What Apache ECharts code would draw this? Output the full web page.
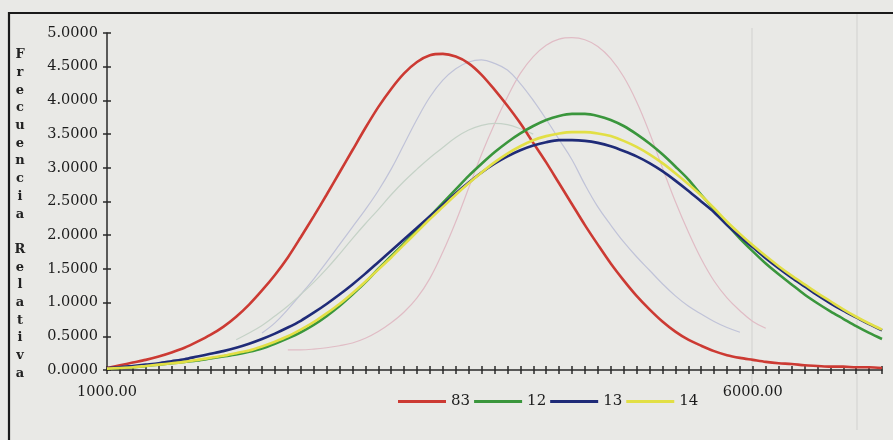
<!DOCTYPE html>
<html>
<head>
<meta charset="utf-8">
<script src="https://cdn.jsdelivr.net/npm/echarts@6/dist/echarts.min.js"></script>
<style>
  html, body { margin: 0; padding: 0; background: #e9e9e6; }
  #chart { width: 893px; height: 440px; }
</style>
</head>
<body>
<div id="chart"></div>
<script>
// Class marks (x axis categories)
const categories = [
  1000, 1100, 1200, 1300, 1400, 1500, 1600, 1700, 1800, 1900,
  2000, 2100, 2200, 2300, 2400, 2500, 2600, 2700, 2800, 2900,
  3000, 3100, 3200, 3300, 3400, 3500, 3600, 3700, 3800, 3900,
  4000, 4100, 4200, 4300, 4400, 4500, 4600, 4700, 4800, 4900,
  5000, 5100, 5200, 5300, 5400, 5500, 5600, 5700, 5800, 5900,
  6000, 6100, 6200, 6300, 6400, 6500, 6600, 6700, 6800, 6900,
  7000
];
// Categories that carry a printed label
const xLabelValues = [1000, 6000];

// Relative frequency curves
const serie83 = [
  0.03, 0.07, 0.11, 0.15, 0.20, 0.26, 0.33, 0.42, 0.52, 0.64,
  0.79, 0.97, 1.18, 1.41, 1.67, 1.97, 2.28, 2.60, 2.93, 3.26,
  3.59, 3.90, 4.17, 4.40, 4.57, 4.67, 4.69, 4.65, 4.55, 4.38,
  4.16, 3.92, 3.66, 3.37, 3.08, 2.77, 2.46, 2.15, 1.86, 1.58,
  1.33, 1.10, 0.90, 0.72, 0.57, 0.45, 0.36, 0.28, 0.22, 0.18,
  0.15, 0.12, 0.10, 0.09, 0.07, 0.06, 0.05, 0.05, 0.04, 0.04,
  0.03
];
const serie12 = [
  0.02, 0.03, 0.04, 0.06, 0.08, 0.10, 0.12, 0.14, 0.17, 0.20,
  0.23, 0.27, 0.32, 0.39, 0.47, 0.56, 0.67, 0.80, 0.95, 1.12,
  1.30, 1.50, 1.69, 1.88, 2.08, 2.28, 2.48, 2.68, 2.88, 3.06,
  3.23, 3.38, 3.51, 3.62, 3.71, 3.77, 3.80, 3.80, 3.77, 3.71,
  3.62, 3.50, 3.36, 3.20, 3.02, 2.83, 2.60, 2.38, 2.16, 1.95,
  1.76, 1.58, 1.42, 1.27, 1.12, 0.99, 0.87, 0.76, 0.65, 0.55,
  0.46
];
const serie13 = [
  0.03, 0.04, 0.06, 0.08, 0.10, 0.13, 0.16, 0.20, 0.24, 0.28,
  0.33, 0.39, 0.46, 0.54, 0.63, 0.73, 0.85, 0.98, 1.12, 1.27,
  1.43, 1.60, 1.77, 1.94, 2.11, 2.28, 2.45, 2.62, 2.78, 2.93,
  3.06, 3.17, 3.26, 3.33, 3.38, 3.41, 3.41, 3.40, 3.37, 3.32,
  3.25, 3.17, 3.07, 2.95, 2.81, 2.66, 2.50, 2.34, 2.15, 1.98,
  1.82, 1.66, 1.51, 1.37, 1.24, 1.11, 0.99, 0.88, 0.78, 0.68,
  0.59
];
const serie14 = [
  0.02, 0.03, 0.04, 0.06, 0.08, 0.10, 0.12, 0.15, 0.18, 0.21,
  0.25, 0.29, 0.35, 0.42, 0.50, 0.60, 0.71, 0.84, 0.98, 1.14,
  1.31, 1.49, 1.67, 1.86, 2.05, 2.24, 2.42, 2.60, 2.77, 2.93,
  3.08, 3.21, 3.32, 3.41, 3.47, 3.51, 3.53, 3.53, 3.51, 3.47,
  3.40, 3.31, 3.20, 3.07, 2.92, 2.76, 2.59, 2.40, 2.20, 2.02,
  1.85, 1.69, 1.54, 1.40, 1.27, 1.14, 1.02, 0.90, 0.79, 0.69,
  0.60
];

// Faint curves printed on the reverse side of the sheet
const faintPink = [
  null, null, null, null, null, null, null, null, null, null,
  null, null, null, null, 0.30, 0.30, 0.31, 0.33, 0.36, 0.40,
  0.47, 0.57, 0.70, 0.86, 1.07, 1.36, 1.75, 2.20, 2.70, 3.20,
  3.65, 4.05, 4.40, 4.65, 4.82, 4.91, 4.93, 4.90, 4.80, 4.62,
  4.35, 3.98, 3.52, 3.00, 2.50, 2.05, 1.65, 1.32, 1.07, 0.88,
  0.72, 0.62, null, null, null, null, null, null, null, null,
  null
];
const faintBlue = [
  null, null, null, null, null, null, null, null, null, null,
  null, null, 0.55, 0.70, 0.90, 1.12, 1.35, 1.60, 1.86, 2.12,
  2.38, 2.66, 2.98, 3.35, 3.72, 4.05, 4.30, 4.47, 4.57, 4.60,
  4.55, 4.45, 4.25, 4.00, 3.72, 3.42, 3.12, 2.75, 2.42, 2.15,
  1.90, 1.68, 1.48, 1.28, 1.10, 0.95, 0.83, 0.72, 0.63, 0.56,
  null, null, null, null, null, null, null, null, null, null,
  null
];
const faintGreen = [
  null, null, null, null, null, null, null, null, null, null,
  0.45, 0.55, 0.66, 0.80, 0.95, 1.12, 1.30, 1.50, 1.72, 1.95,
  2.17, 2.38, 2.60, 2.80, 2.98, 3.15, 3.30, 3.45, 3.56, 3.63,
  3.66, 3.64, 3.58, 3.50, null, null, null, null, null, null,
  null, null, null, null, null, null, null, null, null, null,
  null, null, null, null, null, null, null, null, null, null,
  null
];

const yTitle = 'Frecuencia Relativa';
const serif = 'DejaVu Serif';

const chart = echarts.init(document.getElementById('chart'), null, { renderer: 'canvas' });

function mainLine(name, data, color) {
  return {
    name, type: 'line', data, smooth: 0.3, symbol: 'none',
    lineStyle: { color, width: 2.6 }, itemStyle: { color },
    z: 3
  };
}
function faintLine(data, color) {
  return {
    type: 'line', data, smooth: 0.4, symbol: 'none', silent: true,
    lineStyle: { color, width: 1.2 }, z: 1
  };
}

chart.setOption({
  animation: false,
  backgroundColor: '#e9e9e6',
  grid: { left: 107, right: 11, top: 33, bottom: 70, outerBoundsMode: 'none' },
  legend: {
    data: ['83', '12', '13', '14'],
    icon: 'rect',
    left: 393, top: 389,
    itemWidth: 48, itemHeight: 3, itemGap: 4,
    textStyle: { fontFamily: serif, fontSize: 15, color: '#1c1c1c' }
  },
  xAxis: [
    {
      type: 'category', data: categories, boundaryGap: false,
      axisLine: { lineStyle: { color: '#2a2a2a', width: 1.5 } },
      axisTick: { show: true, interval: 0, length: 4, lineStyle: { color: '#2a2a2a', width: 1.5 } },
      axisLabel: {
        interval: (i, v) => xLabelValues.includes(Number(v)),
        formatter: v => Number(v).toFixed(2),
        margin: 15, fontFamily: serif, fontSize: 14.5, color: '#1c1c1c'
      },
      splitLine: { show: false }
    },
    {
      type: 'category', data: categories, boundaryGap: false, position: 'bottom',
      axisLine: { show: false },
      axisTick: { show: true, inside: true, interval: 0, length: 4, lineStyle: { color: '#2a2a2a', width: 1.5 } },
      axisLabel: { show: false },
      splitLine: { show: false }
    }
  ],
  yAxis: [
    {
      type: 'value', min: 0, max: 5, interval: 0.5,
      axisLine: { show: true, lineStyle: { color: '#2a2a2a', width: 1.5 } },
      axisTick: { show: true, length: 4, lineStyle: { color: '#2a2a2a', width: 1.5 } },
      axisLabel: {
        formatter: v => v.toFixed(4), margin: 9,
        fontFamily: serif, fontSize: 14.5, color: '#1c1c1c'
      },
      splitLine: { show: false }
    },
    {
      type: 'value', min: 0, max: 5, interval: 0.5, position: 'left',
      axisLine: { show: false },
      axisTick: { show: true, inside: true, length: 4, lineStyle: { color: '#2a2a2a', width: 1.5 } },
      axisLabel: { show: false },
      splitLine: { show: false }
    }
  ],
  graphic: [
    {
      type: 'rect', silent: true, z: 0,
      shape: { x: 9, y: 13, width: 940, height: 480 },
      style: { fill: null, stroke: '#1a1a1a', lineWidth: 2.2 }
    },
    {
      type: 'line', silent: true, z: 0,
      shape: { x1: 752, y1: 28, x2: 752, y2: 395 },
      style: { stroke: '#d6d6d3', lineWidth: 1.2 }
    },
    {
      type: 'line', silent: true, z: 0,
      shape: { x1: 857, y1: 14, x2: 857, y2: 430 },
      style: { stroke: '#d6d6d3', lineWidth: 1.2 }
    },
    {
      type: 'text', silent: true,
      style: {
        text: yTitle.split('').join('\n'),
        x: 20, y: 46, textAlign: 'center', textVerticalAlign: 'top',
        lineHeight: 17.7, font: 'bold 13px "DejaVu Serif"', fill: '#222'
      }
    }
  ],
  series: [
    faintLine(faintPink, '#e0bcc5'),
    faintLine(faintBlue, '#c0c3d8'),
    faintLine(faintGreen, '#c5d2c7'),
    mainLine('83', serie83, '#cc3a33'),
    mainLine('12', serie12, '#3a963c'),
    mainLine('13', serie13, '#1f2b78'),
    mainLine('14', serie14, '#e2df45')
  ]
});
</script>
</body>
</html>
